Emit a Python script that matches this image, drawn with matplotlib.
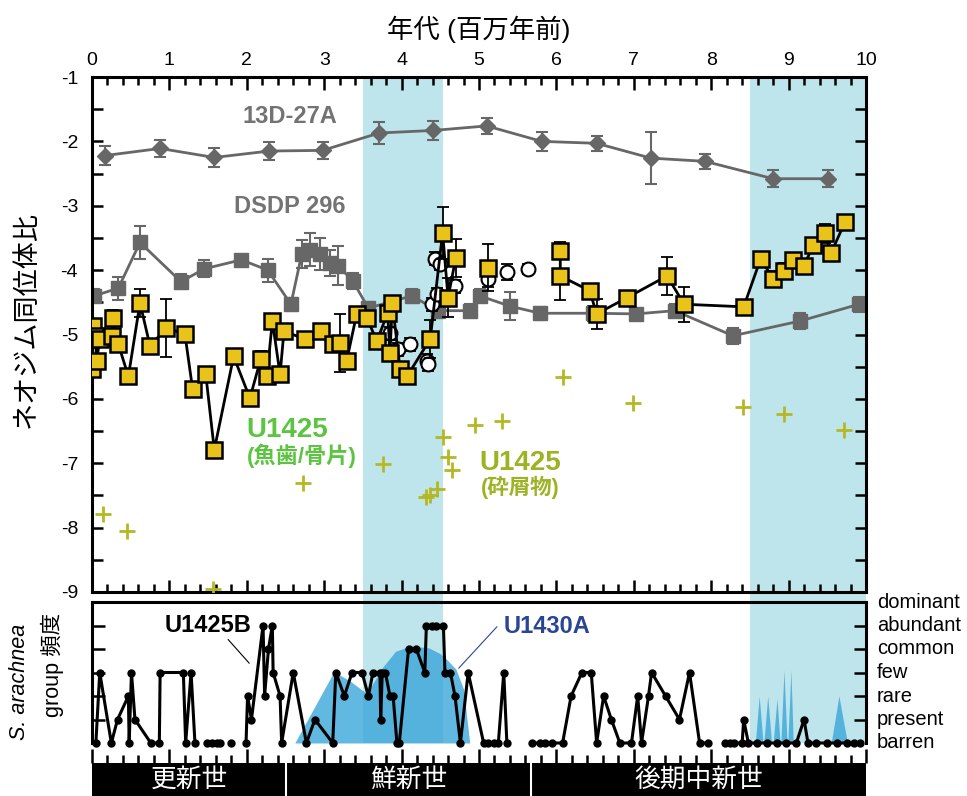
import numpy as np
import matplotlib
matplotlib.use("Agg")
import matplotlib.pyplot as plt

plt.rcParams['font.family'] = ['Liberation Sans', 'Noto Sans CJK JP']
plt.rcParams['axes.unicode_minus'] = False

# --- 13D-27A (diamonds)
crust_age = [0.17, 0.88, 1.58, 2.29, 2.98, 3.71, 4.41, 5.10, 5.81, 6.52, 7.22, 7.92, 8.80, 9.51]
crust_nd = [-2.22, -2.11, -2.25, -2.15, -2.14, -1.87, -1.83, -1.76, -2.00, -2.03, -2.26, -2.31, -2.58, -2.58]
crust_err = [0.15, 0.13, 0.15, 0.14, 0.13, 0.17, 0.15, 0.13, 0.15, 0.12, 0.40, 0.12, 0.13, 0.13]

# --- DSDP 296 (grey squares)
dsdp_age = [0.03, 0.34, 0.62, 1.15, 1.45, 1.93, 2.27, 2.57, 2.71, 2.82, 2.95, 3.07, 3.18, 3.37,
            3.57, 4.13, 4.47, 4.88, 5.01, 5.40, 5.79, 6.47, 7.03, 7.53, 8.28, 9.15, 9.91]
dsdp_nd = [-4.40, -4.28, -3.57, -4.18, -3.98, -3.84, -4.00, -4.53, -3.75, -3.68, -3.75, -3.89, -3.93,
           -4.17, -4.59, -4.40, -4.63, -4.63, -4.40, -4.56, -4.67, -4.67, -4.68, -4.63, -5.02, -4.79, -4.53]
dsdp_err = [0.10, 0.18, 0.25, 0.12, 0.13, 0.08, 0.18, 0.10, 0.22, 0.25, 0.25, 0.20, 0.30, 0.12,
            0.10, 0.10, 0.10, 0.10, 0.10, 0.22, 0.10, 0.12, 0.08, 0.10, 0.12, 0.12, 0.12]

# --- U1425 fish teeth / bone (yellow squares)
fish_age = [0.00, 0.01, 0.04, 0.06, 0.10, 0.26, 0.27, 0.34, 0.47, 0.62, 0.75, 0.96, 1.20, 1.30,
            1.47, 1.58, 1.83, 2.04, 2.18, 2.26, 2.33, 2.43, 2.48, 2.75, 2.96, 3.11, 3.20, 3.29,
            3.42, 3.55, 3.68, 3.82, 3.85, 3.88, 3.98, 4.07, 4.37, 4.53, 4.60, 4.70,
            5.12,
            6.05, 6.05, 6.43, 6.52, 6.91, 7.43, 7.65, 8.42, 8.64, 8.80, 8.94, 9.06, 9.20,
            9.32, 9.47, 9.55, 9.73]
fish_nd = [-5.54, -4.87, -5.02, -5.41, -5.07, -5.02, -4.74, -5.15, -5.65, -4.51, -5.18, -4.90, -4.99, -5.85,
           -5.62, -6.79, -5.34, -5.99, -5.38, -5.65, -4.79, -5.62, -4.95, -5.07, -4.95, -5.15, -5.13, -5.41,
           -4.68, -4.74, -5.10, -4.67, -5.29, -4.51, -5.54, -5.65, -5.07, -3.42, -4.43, -3.81,
           -3.96,
           -3.70, -4.09, -4.32, -4.68, -4.43, -4.09, -4.53, -4.57, -3.82, -4.14, -4.01, -3.85, -3.93,
           -3.61, -3.43, -3.73, -3.25]
fish_err = [0.10, 0.10, 0.10, 0.10, 0.10, 0.10, 0.12, 0.10, 0.08, 0.22, 0.10, 0.45, 0.10, 0.08,
            0.10, 0.08, 0.10, 0.12, 0.12, 0.10, 0.10, 0.10, 0.10, 0.08, 0.08, 0.10, 0.45, 0.10,
            0.10, 0.10, 0.10, 0.10, 0.10, 0.10, 0.10, 0.08, 0.30, 0.40, 0.30, 0.30,
            0.37,
            0.13, 0.37, 0.10, 0.23, 0.08, 0.30, 0.27, 0.08, 0.10, 0.12, 0.12, 0.10, 0.10,
            0.10, 0.15, 0.08, 0.08]
fish_breaks = [4.70, 5.12]   # no connecting line after these ages

# --- open circles
circ_age = [3.85, 3.95, 4.11, 4.33, 4.34, 4.39, 4.43, 4.46, 4.50, 4.69, 5.12, 5.36, 5.63]
circ_nd = [-4.98, -5.23, -5.15, -5.41, -5.46, -4.53, -3.82, -4.37, -3.90, -4.25, -4.14, -4.03, -3.98]
circ_err = [0.10, 0.10, 0.10, 0.10, 0.10, 0.10, 0.10, 0.10, 0.10, 0.10, 0.12, 0.12, 0.08]

# --- U1425 detrital (crosses)
detr_age = [0.14, 0.45, 1.56, 2.73, 3.76, 4.32, 4.37, 4.46, 4.53, 4.60, 4.65, 4.95, 5.30, 6.09,
            6.99, 8.41, 8.94, 9.72]
detr_nd = [-7.79, -8.05, -8.96, -7.30, -7.01, -7.52, -7.49, -7.40, -6.59, -6.90, -7.10, -6.40, -6.34,
           -5.66, -6.07, -6.12, -6.24, -6.49]

# --- S. arachnea group abundance, U1425B (0 = barren ... 6 = dominant)
b_age = [0.05, 0.10, 0.25, 0.33, 0.47, 0.48, 0.51, 0.555, 0.76, 0.87, 0.88, 1.18, 1.21, 1.28, 1.33,
         1.48, 1.55, 1.61, 1.65, 1.80, 1.99, 2.01, 2.06, 2.21, 2.23, 2.28, 2.33, 2.34, 2.43, 2.45,
         2.60, 2.77, 2.88, 3.11, 3.15, 3.26, 3.36, 3.49, 3.57, 3.63, 3.72, 3.73, 3.75, 3.79, 3.85,
         3.89, 3.94, 3.97, 4.09, 4.19, 4.30, 4.32, 4.39, 4.45, 4.54, 4.56, 4.63, 4.69, 4.76, 4.86,
         5.06, 5.12, 5.19, 5.25, 5.32, 5.36, 5.69, 5.79, 5.85, 5.94, 6.08, 6.19, 6.33, 6.45, 6.52,
         6.61, 6.71, 6.82, 6.97, 7.05, 7.10, 7.19, 7.23, 7.41, 7.59, 7.72, 7.85, 7.96, 8.18, 8.24,
         8.29, 8.40, 8.42, 8.48, 8.59, 8.72, 8.85, 8.97, 9.10, 9.20, 9.25, 9.36, 9.49, 9.62, 9.75,
         9.84, 9.92]
b_level = [0, 3, 0, 1, 2, 0, 3, 1, 0, 0, 3, 3, 0, 3, 0,
           0, 0, 0, 0, 0, 0, 2, 1, 5, 2, 4, 5, 3, 2, 0,
           3, 0, 1, 0, 3, 2, 3, 3, 2, 3, 3, 1, 3, 3, 2,
           2, 0, 0, 4, 4, 3, 5, 5, 5, 5, 3, 3, 2, 0, 3,
           0, 0, 0, 0, 3, 0, 0, 0, 0, 0, 0, 2, 3, 3, 0,
           2, 1, 0, 0, 2, 0, 2, 3, 2, 1, 3, 0, 0, 0, 0,
           0, 0, 1, 0, 0, 0, 0, 0, 0, 1, 0, 0, 0, 0, 0,
           0, 0]
b_breaks = [1.33, 1.65, 1.80, 5.36, 7.96]

# --- U1430A (filled area)
a_age = [2.62, 3.12, 3.20, 3.35, 3.55, 3.75, 3.92, 4.05, 4.20, 4.35, 4.50, 4.60, 4.70, 4.80, 4.88,
         8.57, 8.62, 8.67, 8.68, 8.73, 8.78, 8.80, 8.85, 8.89, 8.90, 8.94, 8.98, 8.99, 9.03, 9.06,
         9.55, 9.65, 9.76]
a_level = [0, 3.0, 2.9, 2.6, 2.1, 3.2, 3.9, 4.05, 4.1, 4.05, 3.8, 3.5, 3.15, 2.3, 0,
           0, 2.0, 0, 0, 2.0, 0, 0, 1.9, 0, 0, 3.1, 0, 0, 3.1, 0,
           0, 2.0, 0]

level_names = ['barren', 'present', 'rare', 'few', 'common', 'abundant', 'dominant']
shade_spans = [(3.5, 4.53), (8.5, 10.0)]
epoch_edges = [0, 2.51, 5.67, 10]
epoch_names = ['更新世', '鮮新世', '後期中新世']

shade = '#bee5eb'
grey = '#676767'
yellow = '#e9c31a'


def with_breaks(x, y, breaks):
    xs, ys = [], []
    for a, b in zip(x, y):
        xs.append(a)
        ys.append(b)
        if a in breaks:
            xs.append(np.nan)
            ys.append(np.nan)
    return xs, ys


fig = plt.figure(figsize=(9.67, 7.96), dpi=100)
L, W = 92 / 967, 774 / 967
ax = fig.add_axes([L, 1 - 592 / 796, W, 515 / 796])
ax2 = fig.add_axes([L, 1 - 743 / 796, W, 141 / 796])
ax3 = fig.add_axes([L, 0, W, 1 - 763 / 796])
ax.set_zorder(3)

# ---------------- top panel
for a, b in shade_spans:
    ax.axvspan(a, b, color=shade, lw=0, zorder=0)

ax.errorbar(crust_age, crust_nd, yerr=crust_err, fmt='none', ecolor=grey, elinewidth=1.5,
            capsize=4, capthick=1.5, zorder=2)
ax.plot(crust_age, crust_nd, '-', color=grey, lw=2, marker='D', ms=8.5, mfc=grey, mec=grey, zorder=2)

ax.errorbar(dsdp_age, dsdp_nd, yerr=dsdp_err, fmt='none', ecolor=grey, elinewidth=1.5,
            capsize=4, capthick=1.5, zorder=2)
ax.plot(dsdp_age, dsdp_nd, '-', color=grey, lw=2, marker='s', ms=10, mfc=grey, mec=grey, zorder=2)

ax.plot(detr_age, detr_nd, ls='', marker='+', ms=12, mew=2, color='#b4b823', zorder=3)

ax.errorbar(circ_age, circ_nd, yerr=circ_err, fmt='none', ecolor='black', elinewidth=1.3,
            capsize=4, capthick=1.3, zorder=4)
ax.plot(circ_age, circ_nd, ls='', marker='o', ms=10, mfc='white', mec='black', mew=1.5, zorder=4)

fx, fy = with_breaks(fish_age, fish_nd, fish_breaks)
ax.errorbar(fish_age, fish_nd, yerr=fish_err, fmt='none', ecolor='black', elinewidth=1.3,
            capsize=4, capthick=1.3, zorder=5)
ax.plot(fx, fy, '-', color='black', lw=2, zorder=5)
ax.plot(fish_age, fish_nd, ls='', marker='s', ms=11, mfc=yellow, mec='black', mew=1.8, zorder=6)

ax.text(2.56, -1.62, '13D-27A', color='#737373', fontsize=17, fontweight='bold', ha='center', va='center')
ax.text(2.56, -3.01, 'DSDP 296', color='#737373', fontsize=17, fontweight='bold', ha='center', va='center')
ax.text(2.52, -6.48, 'U1425', color='#5cc440', fontsize=20, fontweight='bold', ha='center', va='center')
ax.text(2.71, -6.88, '(魚歯/骨片)', color='#5cc440', fontsize=16, fontweight='bold', ha='center', va='center')
ax.text(5.53, -7.00, 'U1425', color='#9cb324', fontsize=20, fontweight='bold', ha='center', va='center')
ax.text(5.53, -7.37, '(砕屑物)', color='#9cb324', fontsize=15.5, fontweight='bold', ha='center', va='center')

ax.set_xlim(0, 10)
ax.set_ylim(-9, -1)
ax.set_xticks(range(11))
ax.set_xticks(np.arange(0, 10.01, 0.2), minor=True)
ax.set_yticks(range(-9, 0))
ax.set_yticks(np.arange(-9, -0.9, 0.5), minor=True)
ax.tick_params(axis='x', which='both', direction='in', top=True, bottom=True,
               labeltop=True, labelbottom=False, width=1.8, labelsize=14, pad=6)
ax.tick_params(axis='x', which='major', length=9)
ax.tick_params(axis='x', which='minor', length=6)
ax.tick_params(axis='y', which='both', direction='in', left=True, right=True,
               length=8, width=1.8, labelsize=14, pad=10)
for s in ax.spines.values():
    s.set_linewidth(2.2)
ax.set_xlabel('年代 (百万年前)', fontsize=19, labelpad=10)
ax.xaxis.set_label_position('top')
fig.text(27 / 967, 1 - 320 / 796, 'ネオジム同位体比', rotation=90, fontsize=19.5,
         ha='center', va='center')

# ---------------- abundance panel
for a, b in shade_spans:
    ax2.axvspan(a, b, ymin=0, ymax=1.07, color=shade, lw=0, zorder=0, clip_on=False)
ax2.fill_between(a_age, a_level, 0, color='#3aa6da', alpha=0.8, lw=0, zorder=1)
bx, by = with_breaks(b_age, b_level, b_breaks)
ax2.plot(bx, by, '-', color='black', lw=2.2, zorder=3, clip_on=False)
ax2.plot(b_age, b_level, ls='', marker='o', ms=5, color='black', zorder=3, clip_on=False)

ax2.text(1.50, 5.02, 'U1425B', fontsize=17, fontweight='bold', ha='center', va='center')
ax2.plot([1.76, 2.03], [4.4, 3.4], color='black', lw=0.8)
ax2.text(5.88, 4.94, 'U1430A', fontsize=17, fontweight='bold', color='#2a4595', ha='center', va='center')
ax2.plot([5.23, 4.74], [4.94, 3.19], color='#2a4595', lw=0.8)

ax2.set_xlim(0, 10)
ax2.set_ylim(0, 6)
ax2.set_xticks([])
ax2.set_yticks(range(1, 6))
ax2.set_yticklabels([])
ax2.tick_params(axis='y', direction='in', left=True, right=True, length=9, width=1.8)
ax2.spines['bottom'].set_visible(False)
for s in ['top', 'left', 'right']:
    ax2.spines[s].set_linewidth(2.2)
ytr = ax2.get_yaxis_transform()
for i, name in enumerate(level_names):
    ax2.text(1.014, i, name, transform=ytr, fontsize=14.5, ha='left', va='center', clip_on=False)
fig.text(20 / 967, 1 - 682 / 796, 'S. arachnea', style='italic', rotation=90, fontsize=15.5,
         ha='center', va='center')
fig.text(52 / 967, 1 - 665 / 796, 'group 頻度', rotation=90, fontsize=15.5, ha='center', va='center')

# ---------------- epoch bar
ax3.set_facecolor('black')
ax3.set_xlim(0, 10)
ax3.set_ylim(0, 1)
for e in epoch_edges[1:-1]:
    ax3.axvline(e, color='white', lw=1.5)
for i, name in enumerate(epoch_names):
    ax3.text((epoch_edges[i] + epoch_edges[i + 1]) / 2, 0.5, name, color='white', fontsize=18.5,
             ha='center', va='center')
ax3.set_yticks([])
ax3.set_xticks(range(11))
ax3.set_xticks(np.arange(0, 10.01, 0.2), minor=True)
ax3.tick_params(axis='x', which='both', direction='out', top=True, bottom=False,
                labeltop=False, labelbottom=False, width=1.8)
ax3.tick_params(axis='x', which='major', length=10)
ax3.tick_params(axis='x', which='minor', length=6)
for s in ax3.spines.values():
    s.set_visible(False)

fig.savefig('out.png', dpi=100)
